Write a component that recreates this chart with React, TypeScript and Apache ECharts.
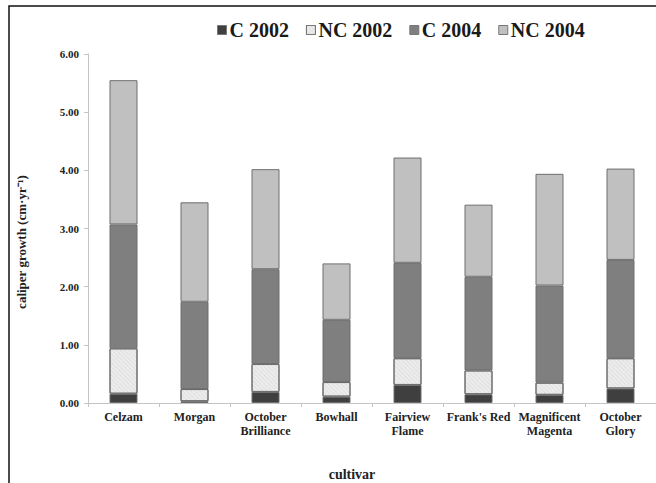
import React, { useEffect, useRef } from "react";
import * as echarts from "echarts";

const categories = [
  "Celzam",
  "Morgan",
  "October\nBrilliance",
  "Bowhall",
  "Fairview\nFlame",
  "Frank's Red",
  "Magnificent\nMagenta",
  "October\nGlory",
];
const c2002 = [0.16, 0.03, 0.19, 0.11, 0.31, 0.15, 0.14, 0.25];
const nc2002 = [0.78, 0.21, 0.48, 0.25, 0.46, 0.41, 0.21, 0.52];
const c2004 = [2.13, 1.5, 1.63, 1.07, 1.64, 1.61, 1.67, 1.69];
const nc2004 = [2.48, 1.71, 1.72, 0.97, 1.81, 1.24, 1.92, 1.57];
const seriesNames = ["C 2002", "NC 2002", "C 2004", "NC 2004"];

const FONT = "'Liberation Serif', 'Times New Roman', serif";

export default function App() {
  const ref = useRef<HTMLDivElement>(null);
  useEffect(() => {
    document.body.style.margin = "0";
    const chart = echarts.init(ref.current!, null, { renderer: "svg" });
    const colors = ["#3f3f3f", "#ececec", "#7f7f7f", "#c0c0c0"];
    const datas = [c2002, nc2002, c2004, nc2004];
    chart.setOption({
      animation: false,
      backgroundColor: "#ffffff",
      textStyle: { fontFamily: FONT },
      legend: {
        top: 15,
        left: 212,
        itemWidth: 9,
        itemHeight: 9,
        itemGap: 17,
        icon: "rect",
        textStyle: {
          fontFamily: FONT,
          fontWeight: "bold",
          fontSize: 20,
          color: "#1a1a1a",
          padding: [0, 0, 0, -2],
        },
        data: seriesNames.map((n, i) => ({
          name: n,
          itemStyle: { color: colors[i], borderColor: "#777", borderWidth: 1 },
        })),
      },
      grid: { left: 88, top: 54, bottom: 80, width: 569, containLabel: false },
      xAxis: {
        type: "category",
        data: categories,
        axisLine: { lineStyle: { color: "#c4c4c4", width: 1 } },
        axisTick: { show: true, length: 4, lineStyle: { color: "#c4c4c4" } },
        axisLabel: {
          fontFamily: FONT,
          fontWeight: "bold",
          fontSize: 12,
          color: "#222",
          margin: 7,
          lineHeight: 14,
          interval: 0,
        },
      },
      yAxis: {
        type: "value",
        min: 0,
        max: 6,
        interval: 1,
        splitLine: { show: false },
        axisLine: { show: true, lineStyle: { color: "#c4c4c4", width: 1 } },
        axisTick: { show: true, length: 4, lineStyle: { color: "#c4c4c4" } },
        axisLabel: {
          fontFamily: FONT,
          fontWeight: "bold",
          fontSize: 11,
          color: "#222",
          margin: 9,
          formatter: (v: number) => v.toFixed(2),
        },
      },
      series: datas.map((d, i) => ({
        name: seriesNames[i],
        type: "bar",
        stack: "total",
        barWidth: 28,
        data: d,
        itemStyle: {
          color: colors[i],
          borderColor: "#6e6e6e",
          borderWidth: 1,
          decal:
            i === 1
              ? {
                  symbol: "rect",
                  symbolSize: 1,
                  color: "rgba(0,0,0,0.1)",
                  dashArrayX: [1, 1],
                  dashArrayY: [1, 2],
                  rotation: Math.PI / 4,
                }
              : "none",
        },
      })),
      graphic: [
        {
          type: "rect",
          shape: { x: 9, y: 6, width: 700, height: 520 },
          style: { fill: "none", stroke: "#111", lineWidth: 1.5 },
          silent: true,
        },
        {
          type: "text",
          x: 21,
          y: 242,
          rotation: Math.PI / 2,
          style: {
            text: "caliper growth (cm·yr⁻¹)",
            fontFamily: FONT,
            fontWeight: "bold",
            fontSize: 13,
            fill: "#222",
            align: "center",
            verticalAlign: "middle",
          },
        },
        {
          type: "text",
          x: 352,
          y: 474,
          style: {
            text: "cultivar",
            fontFamily: FONT,
            fontWeight: "bold",
            fontSize: 14,
            fill: "#222",
            align: "center",
            verticalAlign: "middle",
          },
        },
      ],
    });
    return () => chart.dispose();
  }, []);
  return (
    <div
      ref={ref}
      style={{ position: "fixed", left: 0, top: 0, width: 656, height: 483 }}
    />
  );
}
